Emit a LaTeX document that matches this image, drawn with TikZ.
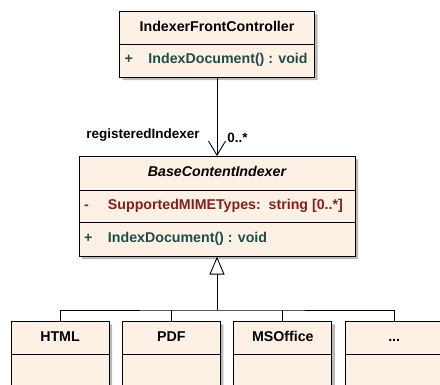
\documentclass[tikz,border=0pt]{standalone}
\usepackage{fontspec}
\setmainfont{Liberation Sans}
\usetikzlibrary{shapes.multipart,chains,arrows.meta,shadows}
\definecolor{classfill}{RGB}{252,241,228}
\definecolor{attrcolor}{RGB}{140,28,28}
\definecolor{opcolor}{RGB}{28,78,78}
\definecolor{shadowgray}{RGB}{185,185,185}
\newcommand{\partbox}[3]{\begin{minipage}[c][#2][c]{#1}#3\strut\end{minipage}}
\newcommand{\member}[3]{{\color{#1}\hspace*{5pt}\makebox[24pt][l]{#2}#3}}
\tikzset{
    umlclass/.style={
        rectangle split, rectangle split parts=#1,
        draw=black, line width=0.9pt, fill=classfill,
        inner sep=0pt, text=black,
        font=\fontsize{14.2}{16}\selectfont\bfseries,
        drop shadow={shadow xshift=3pt, shadow yshift=-3pt,
            fill=shadowgray, opacity=1}
    },
    connect/.style={-{Straight Barb[length=14pt,width=17pt]}, line width=0.9pt},
    inherit/.style={-{Triangle[open,length=18pt,width=15pt,fill=white]}, line width=0.9pt},
    link/.style={line width=0.9pt},
    role/.style={font=\fontsize{13.5}{16}\selectfont\bfseries, inner sep=0pt}
}
\begin{document}
\begin{tikzpicture}[x=1pt,y=-1pt]
    \path[use as bounding box] (0,0) rectangle (440,385);
    \clip (0,0) rectangle (440,385);

    \node[umlclass=2, anchor=north] (front) at (217,11)
        {\partbox{195pt}{32pt}{\centering IndexerFrontController}
         \nodepart{two}\partbox{195pt}{32pt}{\member{opcolor}{+}{IndexDocument() : void}}};

    \node[umlclass=3, anchor=north] (base) at (217,156)
        {\partbox{276pt}{33pt}{\centering\itshape BaseContentIndexer}
         \nodepart{two}\partbox{276pt}{31pt}{\member{attrcolor}{-}{SupportedMIMETypes:\ \ string [0..*]}}
         \nodepart{three}\partbox{276pt}{33pt}{\member{opcolor}{+}{IndexDocument() : void}}};

    \begin{scope}[start chain=going right, node distance=12.5pt]
        \node[umlclass=2, on chain, anchor=north] (html) at (60,321)
            {\partbox{98pt}{32pt}{\centering HTML}\nodepart{two}\partbox{98pt}{40pt}{}};
        \node[umlclass=2, on chain] (pdf)
            {\partbox{98pt}{32pt}{\centering PDF}\nodepart{two}\partbox{98pt}{40pt}{}};
        \node[umlclass=2, on chain] (msoffice)
            {\partbox{98pt}{32pt}{\centering MSOffice}\nodepart{two}\partbox{98pt}{40pt}{}};
        \node[umlclass=2, on chain] (more)
            {\partbox{98pt}{32pt}{\centering ...}\nodepart{two}\partbox{98pt}{40pt}{}};
    \end{scope}

    % association with role names
    \draw[connect] (front.south) -- (base.north)
        node[role, pos=1, anchor=east, xshift=-17pt, yshift=21pt] (rolename) {registeredIndexer}
        node[role, pos=1, anchor=west, xshift=10pt, yshift=18pt] (multiplicity) {0..*};

    % generalization tree
    \coordinate (fork) at (217,310);
    \draw[inherit] (fork) -- (base.south);
    \draw[link] (html.north) |- (fork) -| (more.north);
    \foreach \n in {pdf,msoffice}
        \draw[link] (\n.north) -- (\n.north |- fork);
\end{tikzpicture}
\end{document}
